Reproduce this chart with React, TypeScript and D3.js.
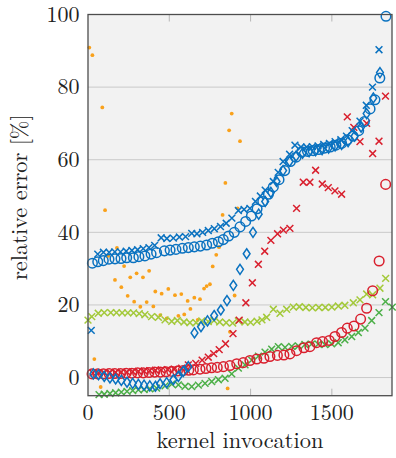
import React from 'react';
import * as d3 from 'd3';

// [kernel invocation, relative error %]
const blueCircles: [number, number][] = [
  [27, 31.5], [60, 31.9], [94, 32.2], [129, 32.6], [166, 32.7], [203, 32.8], [238, 33], [279, 33],
  [313, 33.3], [350, 33.5], [388, 34], [422, 34.4], [470, 34.9], [505, 35.1], [541, 35.3], [580, 35.6],
  [617, 35.8], [654, 36], [691, 36.2], [730, 36.5], [765, 37], [802, 37.4], [832, 38], [865, 39],
  [900, 40], [935, 41.5], [970, 43], [1005, 44.5], [1040, 46.5], [1075, 48.5], [1110, 50.5], [1140, 52.5],
  [1175, 54.5], [1210, 57], [1245, 59.5], [1280, 60.7], [1315, 62.2], [1350, 62.3], [1385, 62.5],
  [1420, 62.8], [1455, 63.2], [1490, 63.5], [1525, 64], [1560, 64.5], [1595, 65.5], [1630, 66.5],
  [1665, 68], [1700, 70.5], [1735, 74], [1765, 76.5], [1795, 82.5], [1833, 99.5],
];

const blueCrosses: [number, number][] = [
  [20, 13], [60, 34], [95, 34.5], [130, 34.5], [165, 34.6], [200, 34.6], [235, 34.8], [270, 35],
  [305, 35.2], [340, 35.5], [375, 35.8], [410, 36.4], [450, 38.5], [485, 38.3], [525, 38.4], [562, 38.7],
  [600, 38.8], [638, 39.7], [670, 39.6], [705, 40], [740, 40.5], [777, 41], [815, 41.6], [850, 42.5],
  [885, 43.9], [925, 46], [960, 46.3], [996, 46.6], [1030, 48.5], [1060, 50], [1090, 51.6], [1140, 54],
  [1170, 56.5], [1200, 59.5], [1240, 61.5], [1273, 64], [1310, 63.5], [1345, 63.5], [1380, 63.6],
  [1415, 63.8], [1450, 64.2], [1485, 64.5], [1520, 65], [1555, 65.5], [1590, 66.5], [1625, 68],
  [1673, 70.6], [1712, 75], [1750, 80], [1790, 90.3],
];

const blueDiamonds: [number, number][] = [
  [33, 1], [65, 0.8], [100, 0.3], [135, -0.1], [170, -0.4], [205, -0.8], [240, -1.3], [275, -1.6],
  [310, -1.9], [345, -2.1], [380, -2.3], [415, -2.4], [443, -1.7], [484, -1.4], [525, -0.6], [556, 0.3],
  [586, 1.7], [617, 3], [655, 12.3], [695, 14], [735, 15.6], [776, 17.1], [817, 18.6], [855, 21.2],
  [894, 25.4], [935, 29.8], [976, 34.1], [1015, 40], [1050, 45], [1090, 48.5], [1125, 51], [1160, 54],
  [1200, 57], [1240, 59.5], [1280, 61], [1320, 61.8], [1360, 62.2], [1400, 62.5], [1440, 62.8],
  [1480, 63.2], [1520, 63.8], [1560, 64.2], [1600, 65], [1640, 66.5], [1680, 69], [1714, 72.7],
  [1755, 77], [1796, 84],
];

const redCrosses: [number, number][] = [
  [30, 1.2], [65, 1.3], [100, 1.3], [135, 1.4], [170, 1.4], [205, 1.5], [240, 1.5], [275, 1.6],
  [310, 1.7], [345, 1.8], [380, 1.9], [415, 2], [450, 2.1], [490, 2.2], [530, 2.3], [576, 2.6],
  [617, 3.5], [663, 3.9], [702, 4.8], [740, 5.6], [773, 6.6], [807, 7.7], [846, 9.3], [892, 12.1],
  [930, 15.8], [971, 20.6], [1011, 26.1], [1048, 31.2], [1087, 34.8], [1125, 37.8], [1166, 39.6],
  [1202, 40.6], [1242, 41.1], [1283, 46.6], [1324, 53.8], [1365, 53.8], [1400, 57.1], [1441, 53.3],
  [1478, 52.3], [1519, 51.4], [1560, 50.5], [1595, 71.8], [1635, 68.9], [1673, 65], [1714, 70],
  [1751, 61.7], [1790, 65.1], [1830, 77.5],
];

const redCircles: [number, number][] = [
  [25, 1], [60, 1], [95, 1], [130, 1.1], [165, 1.1], [200, 1.1], [235, 1.2], [270, 1.2], [305, 1.3],
  [340, 1.3], [375, 1.4], [410, 1.5], [445, 1.5], [480, 1.6], [515, 1.7], [550, 1.8], [585, 1.9],
  [620, 2], [648, 2.1], [689, 2.3], [725, 2.5], [760, 2.7], [795, 2.8], [833, 3], [873, 3.3],
  [915, 3.8], [955, 4.1], [996, 4.7], [1038, 5.1], [1082, 5.3], [1119, 5.8], [1165, 6.1], [1205, 6.2],
  [1242, 6.5], [1283, 7.4], [1328, 8.2], [1365, 8.5], [1406, 9.6], [1443, 9.9], [1484, 10.2],
  [1519, 11.3], [1560, 12.4], [1595, 13.6], [1636, 14.2], [1677, 16.1], [1714, 19.1], [1751, 23.9],
  [1791, 32.1], [1831, 53.2],
];

const limeCrosses: [number, number][] = [
  [0, 15.8], [23, 16.8], [63, 17.7], [100, 17.9], [140, 17.9], [175, 17.9], [210, 17.8], [245, 17.8],
  [280, 17.8], [315, 17.6], [350, 17.3], [391, 16.8], [433, 16.6], [474, 15.9], [515, 15.5], [550, 15.7],
  [590, 15.3], [627, 15.1], [665, 15.1], [700, 15.6], [740, 15.4], [775, 15.7], [810, 15.3], [850, 15.1],
  [890, 15], [925, 15.6], [965, 15.3], [1000, 15.2], [1040, 15.5], [1070, 15.9], [1099, 16.6],
  [1140, 18.8], [1181, 17.7], [1222, 18.8], [1263, 19.4], [1300, 19.5], [1340, 19.3], [1380, 19.2],
  [1420, 19.3], [1460, 19.3], [1500, 19.4], [1540, 19.7], [1580, 19.9], [1632, 20.6], [1673, 21.4],
  [1714, 23], [1751, 22.8], [1796, 24.6], [1831, 27.3],
];

const greenCrosses: [number, number][] = [
  [68, -4.7], [100, -4.6], [135, -4.4], [170, -4.2], [205, -4], [240, -3.8], [275, -3.6], [310, -3.4],
  [345, -3.3], [380, -3.1], [422, -2.9], [474, -2.3], [515, -1.8], [556, -2], [597, -2.4], [638, -2.5],
  [679, -2.1], [720, -1.6], [761, -1.1], [802, -0.6], [843, -0.2], [884, 1], [925, 2.6], [966, 3.5],
  [1007, 4.8], [1048, 5.9], [1089, 7], [1130, 7.8], [1171, 8.5], [1212, 8.3], [1253, 8.6], [1294, 8.7],
  [1334, 9.1], [1375, 9.2], [1416, 9.2], [1457, 9.1], [1498, 9.3], [1539, 9.6], [1580, 10.4],
  [1622, 11.3], [1663, 12.4], [1704, 13.6], [1745, 15.7], [1790, 17.9], [1830, 20.9], [1872, 19.4],
];

const orangeDots: [number, number][] = [
  [8, 90.9], [27, 88.8], [39, 5.1], [78, -2.6], [88, 74.4], [105, 46.1], [125, 33.5], [166, 26.9],
  [178, 35.7], [205, 24.9], [222, 30.7], [244, 22.5], [260, 27.6], [284, 20.9], [299, 28.7], [322, 19.5],
  [338, 27.6], [361, 20.8], [376, 29.4], [402, 19.6], [414, 23.7], [445, 17.2], [453, 23.1], [484, 16.3],
  [494, 24.4], [535, 22.7], [556, 17], [574, 23], [592, 17.4], [613, 21.1], [630, 18.9], [654, 22],
  [675, 15.9], [689, 21.6], [714, 24.5], [730, 25.2], [750, 25.7], [767, 30.6], [789, 33.8], [806, 35.9],
  [828, 44.8], [845, 53.6], [859, -3], [868, 68.1], [873, 12.6], [884, 72.7], [902, 22.6], [920, 46.6],
  [935, 65.1],
];

const yTicks = [0, 20, 40, 60, 80, 100];
const xTicks = [0, 500, 1000, 1500];

const BLUE = '#0a72c0';
const RED = '#d9202e';
const LIME = '#a3c93a';
const GREEN = '#4caf48';
const ORANGE = '#f9a11b';
const FONT = '"Latin Modern Roman", "Liberation Serif", serif';

const W = 396;
const H = 458;
const L = 88, R = 392, T = 14.5, B = 395.7;

export default function App() {
  const x = d3.scaleLinear().domain([0, 1870]).range([L, R]);
  const y = d3.scaleLinear().domain([-5, 100]).range([B, T]);

  const cross = (d: [number, number], i: number, color: string, s = 3.4) => (
    <path key={i} d={`M${x(d[0]) - s},${y(d[1]) - s}L${x(d[0]) + s},${y(d[1]) + s}M${x(d[0]) - s},${y(d[1]) + s}L${x(d[0]) + s},${y(d[1]) - s}`}
      stroke={color} strokeWidth={1.5} fill="none" />
  );
  const diamond = (d: [number, number], i: number) => {
    const cx = x(d[0]), cy = y(d[1]);
    return <path key={i} d={`M${cx},${cy - 5}L${cx + 3.4},${cy}L${cx},${cy + 5}L${cx - 3.4},${cy}Z`}
      stroke={BLUE} strokeWidth={1.5} fill="none" />;
  };
  const txt = { fontFamily: FONT, fill: '#222' };

  return (
    <svg width={W} height={H} style={{ position: 'absolute', left: 0, top: 0, background: '#fff' }}>
      <rect x={L} y={T} width={R - L} height={B - T} fill="#f2f2f2" />
      {yTicks.filter(t => t < 100).map(t => (
        <line key={t} x1={L} x2={R} y1={y(t)} y2={y(t)} stroke="#c9c9c9" strokeWidth={1} />
      ))}
      {xTicks.filter(t => t > 0).map(t => (
        <g key={t} stroke="#a8a8a8" strokeWidth={0.8}>
          <line x1={x(t)} x2={x(t)} y1={T} y2={T + 7} />
          <line x1={x(t)} x2={x(t)} y1={B} y2={B - 7} />
        </g>
      ))}

      <g>{orangeDots.map((d, i) => <circle key={i} cx={x(d[0])} cy={y(d[1])} r={1.9} fill={ORANGE} />)}</g>
      <g>{greenCrosses.map((d, i) => cross(d, i, GREEN))}</g>
      <g>{limeCrosses.map((d, i) => cross(d, i, LIME))}</g>
      <g>{redCircles.map((d, i) => <circle key={i} cx={x(d[0])} cy={y(d[1])} r={4.8} fill="none" stroke={RED} strokeWidth={1.5} />)}</g>
      <g>{redCrosses.map((d, i) => cross(d, i, RED))}</g>
      <g>{blueDiamonds.map((d, i) => diamond(d, i))}</g>
      <g>{blueCircles.map((d, i) => <circle key={i} cx={x(d[0])} cy={y(d[1])} r={4.8} fill="none" stroke={BLUE} strokeWidth={1.5} />)}</g>
      <g>{blueCrosses.map((d, i) => cross(d, i, BLUE))}</g>

      <rect x={L} y={T} width={R - L} height={B - T} fill="none" stroke="#4d4d4d" strokeWidth={1.3} />

      {yTicks.map(t => (
        <text key={t} x={L - 8.5} y={y(t)} dy="0.33em" textAnchor="end" fontSize={22} style={txt}>{t}</text>
      ))}
      {xTicks.map(t => (
        <text key={t} x={x(t)} y={419.5} textAnchor="middle" fontSize={22} style={txt}>{t}</text>
      ))}
      <text x={(L + R) / 2} y={448} textAnchor="middle" fontSize={22.4} style={txt}>kernel invocation</text>
      <text transform={`translate(27,${(T + B) / 2 - 8}) rotate(-90)`} textAnchor="middle" fontSize={22.4} style={txt}>relative error [%]</text>
    </svg>
  );
}
